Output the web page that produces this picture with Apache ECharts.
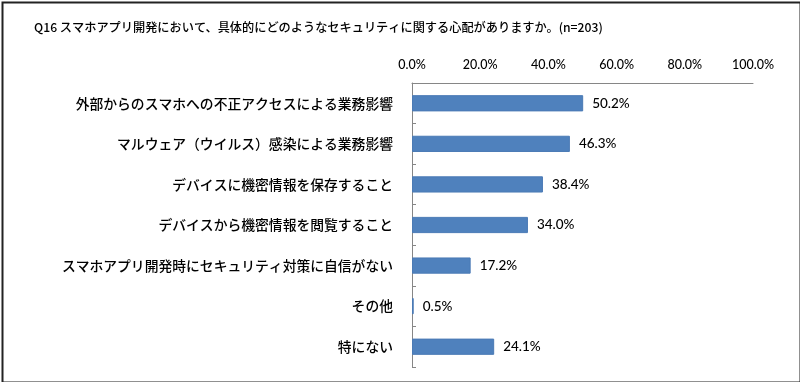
<!DOCTYPE html>
<html><head><meta charset="utf-8">
<script src="https://cdn.jsdelivr.net/npm/echarts@6/dist/echarts.min.js"></script>
<style>html,body{margin:0;padding:0;background:#fff}#c{width:800px;height:382px}</style>
</head><body><div id="c"></div>
<script>
const titleText = 'Q16 スマホアプリ開発において、具体的にどのようなセキュリティに関する心配がありますか。(n=203)';
const categories = [
  '外部からのスマホへの不正アクセスによる業務影響',
  'マルウェア（ウイルス）感染による業務影響',
  'デバイスに機密情報を保存すること',
  'デバイスから機密情報を閲覧すること',
  'スマホアプリ開発時にセキュリティ対策に自信がない',
  'その他',
  '特にない'
];
const values = [50.2, 46.3, 38.4, 34.0, 17.2, 0.5, 24.1];
const axisMin = 0, axisMax = 100, axisStep = 20;

const chart = echarts.init(document.getElementById('c'), null, {renderer: 'canvas'});
chart.setOption({
  backgroundColor: '#fff',
  animation: false,
  title: {
    text: titleText, left: 29, top: 16,
    textStyle: {fontFamily: '"Noto Sans CJK JP"', fontSize: 12.2, fontWeight: 500, color: '#000'}
  },
  graphic: [{
    type: 'rect', left: 0, top: 0,
    shape: {x: 0, y: 0, width: 798, height: 380},
    style: {fill: 'none', stroke: '#222', lineWidth: 2}, z: 100, silent: true
  }],
  grid: {left: 412, right: 47, top: 83, bottom: 15, containLabel: false},
  xAxis: {
    type: 'value', position: 'top', min: axisMin, max: axisMax, interval: axisStep,
    axisLine: {show: true, lineStyle: {color: '#868686', width: 1}},
    axisTick: {show: false},
    splitLine: {show: false},
    axisLabel: {
      margin: 12, color: '#000', fontFamily: 'Lato', fontSize: 12.5, fontWeight: 500,
      formatter: v => v.toFixed(1) + '%'
    }
  },
  yAxis: {
    type: 'category', data: categories, inverse: true,
    axisLine: {show: true, lineStyle: {color: '#868686', width: 1}},
    axisTick: {show: true, inside: true, length: 4, lineStyle: {color: '#868686'}},
    axisLabel: {margin: 19, color: '#000', fontFamily: '"Noto Sans CJK JP"', fontSize: 13.8, fontWeight: 500}
  },
  series: [{
    type: 'bar', data: values, barCategoryGap: '60%',
    itemStyle: {color: '#4F81BD', borderColor: '#4A7AB5', borderWidth: 1},
    label: {
      show: true, position: 'right', distance: 9, color: '#000',
      fontFamily: 'Lato', fontSize: 13.5, fontWeight: 500, formatter: p => p.value.toFixed(1) + '%'
    }
  }]
});
</script></body></html>
